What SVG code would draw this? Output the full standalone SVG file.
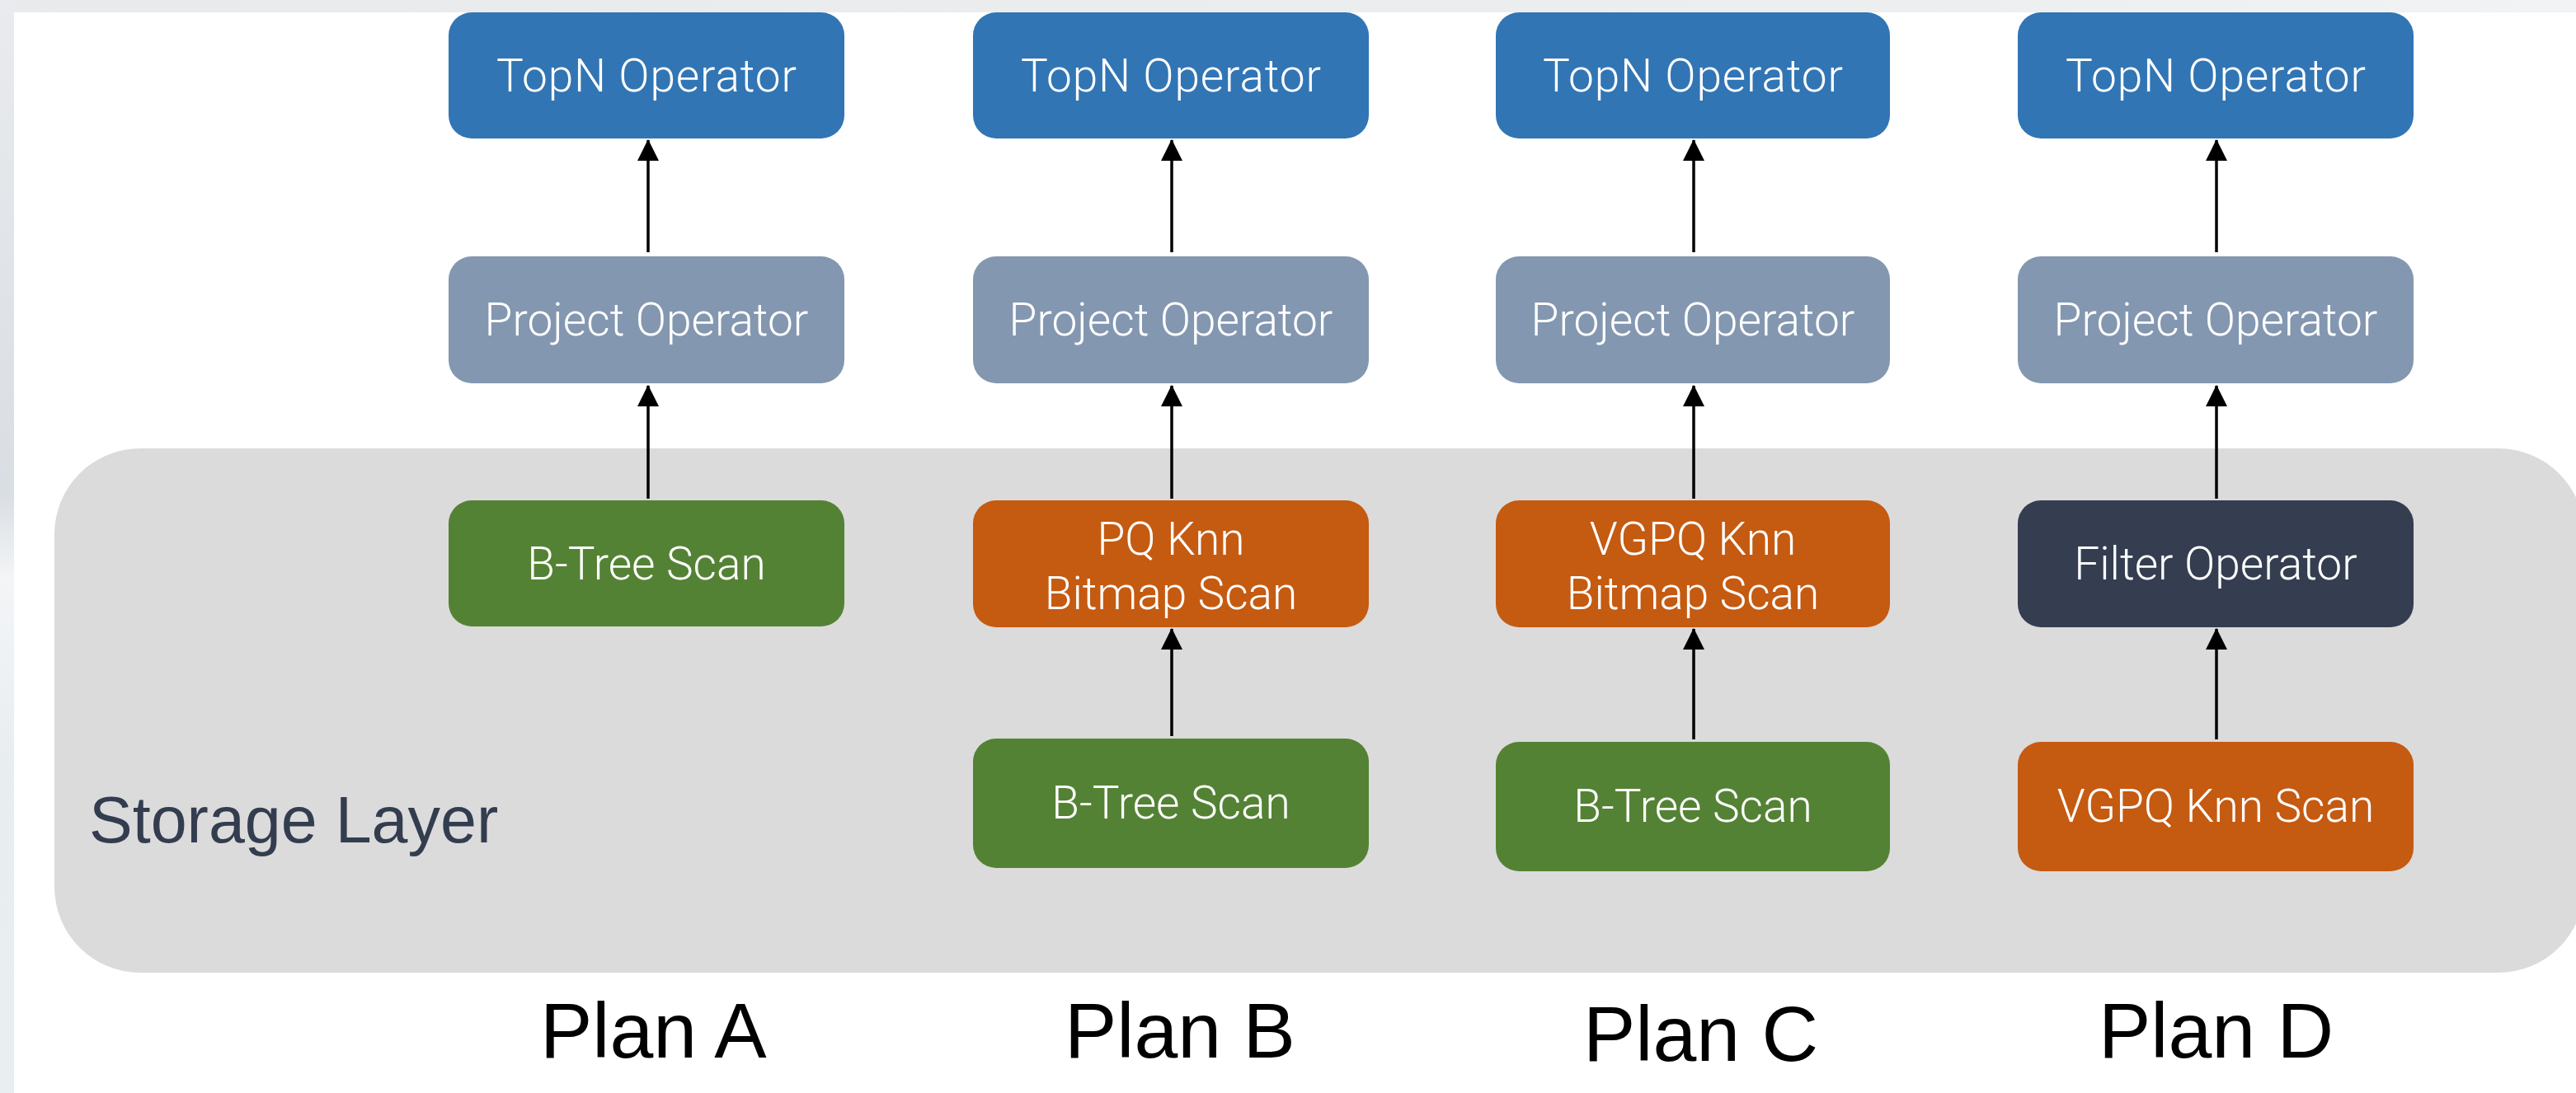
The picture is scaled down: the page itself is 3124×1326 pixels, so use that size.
<svg xmlns="http://www.w3.org/2000/svg" width="3124" height="1326" viewBox="0 0 3124 1326">
<defs>
<linearGradient id="leftStrip" x1="0" y1="0" x2="0" y2="1">
<stop offset="0" stop-color="#e9ebee"/>
<stop offset="0.45" stop-color="#d9dee3"/>
<stop offset="0.53" stop-color="#f3f5f7"/>
<stop offset="0.7" stop-color="#e8edf0"/>
<stop offset="1" stop-color="#e9eef1"/>
</linearGradient>
<linearGradient id="topStrip" x1="0" y1="0" x2="1" y2="0">
<stop offset="0" stop-color="#e8eaec"/>
<stop offset="0.75" stop-color="#eceef0"/>
<stop offset="1" stop-color="#f2f3f5"/>
</linearGradient>
<marker id="arrow" markerUnits="userSpaceOnUse" markerWidth="26" markerHeight="26" viewBox="0 0 24 24" refX="23" refY="12" orient="auto">
<path d="M0,0 L24,12 L0,24 z" fill="#000"/>
</marker>
<style>
.node rect { rx: 28px; ry: 28px; }
.lbl { font-family: Roboto, "Noto Sans", "Liberation Sans", sans-serif; font-weight: 300; font-size: 55px; fill: #ffffff; text-anchor: middle; }
.topn { fill: #3175b4; }
.proj { fill: #8497b0; }
.btree { fill: #548235; }
.knn { fill: #c55a11; }
.filter { fill: #343e50; }
.plan { font-family: "Liberation Sans", Arial, sans-serif; font-size: 95px; fill: #000000; }
.conn line { stroke: #000; stroke-width: 3.5; marker-end: url(#arrow); }
</style>
</defs>
<rect x="0" y="0" width="3124" height="1326" fill="#ffffff"/>
<rect x="0" y="0" width="3124" height="15" fill="url(#topStrip)"/>
<rect x="0" y="0" width="17" height="1326" fill="url(#leftStrip)"/>

<g id="storage-layer">
<rect x="66" y="544" width="3068" height="636" rx="104" ry="104" fill="#dbdbdb"/>
<text x="108" y="1022" font-family="Liberation Sans, Arial, sans-serif" font-size="79" fill="#333d4f">Storage Layer</text>
</g>

<!-- Plan A -->
<g id="a-topn" class="node"><rect class="topn" x="544" y="15" width="480" height="153"/><text class="lbl" x="784" y="111" textLength="364" lengthAdjust="spacing">TopN Operator</text></g>
<g id="a-project" class="node"><rect class="proj" x="544" y="311" width="480" height="154"/><text class="lbl" x="784" y="407">Project Operator</text></g>
<g id="a-btree" class="node"><rect class="btree" x="544" y="607" width="480" height="153"/><text class="lbl" x="784" y="703">B-Tree Scan</text></g>

<!-- Plan B -->
<g id="b-topn" class="node"><rect class="topn" x="1180" y="15" width="480" height="153"/><text class="lbl" x="1420" y="111" textLength="364" lengthAdjust="spacing">TopN Operator</text></g>
<g id="b-project" class="node"><rect class="proj" x="1180" y="311" width="480" height="154"/><text class="lbl" x="1420" y="407">Project Operator</text></g>
<g id="b-pqknn" class="node"><rect class="knn" x="1180" y="607" width="480" height="154"/><text class="lbl" x="1420" y="673">PQ Knn</text><text class="lbl" x="1420" y="739">Bitmap Scan</text></g>
<g id="b-btree" class="node"><rect class="btree" x="1180" y="896" width="480" height="157"/><text class="lbl" x="1420" y="993">B-Tree Scan</text></g>

<!-- Plan C -->
<g id="c-topn" class="node"><rect class="topn" x="1814" y="15" width="478" height="153"/><text class="lbl" x="2053" y="111" textLength="364" lengthAdjust="spacing">TopN Operator</text></g>
<g id="c-project" class="node"><rect class="proj" x="1814" y="311" width="478" height="154"/><text class="lbl" x="2053" y="407">Project Operator</text></g>
<g id="c-vgpqknn" class="node"><rect class="knn" x="1814" y="607" width="478" height="154"/><text class="lbl" x="2053" y="673">VGPQ Knn</text><text class="lbl" x="2053" y="739">Bitmap Scan</text></g>
<g id="c-btree" class="node"><rect class="btree" x="1814" y="900" width="478" height="157"/><text class="lbl" x="2053" y="997">B-Tree Scan</text></g>

<!-- Plan D -->
<g id="d-topn" class="node"><rect class="topn" x="2447" y="15" width="480" height="153"/><text class="lbl" x="2687" y="111" textLength="364" lengthAdjust="spacing">TopN Operator</text></g>
<g id="d-project" class="node"><rect class="proj" x="2447" y="311" width="480" height="154"/><text class="lbl" x="2687" y="407">Project Operator</text></g>
<g id="d-filter" class="node"><rect class="filter" x="2447" y="607" width="480" height="154"/><text class="lbl" x="2687" y="703">Filter Operator</text></g>
<g id="d-vgpqknnscan" class="node"><rect class="knn" x="2447" y="900" width="480" height="157"/><text class="lbl" x="2687" y="997">VGPQ Knn Scan</text></g>

<g id="connectors" class="conn">
<line x1="786" y1="306" x2="786" y2="170"/>
<line x1="786" y1="605" x2="786" y2="468"/>
<line x1="1421" y1="306" x2="1421" y2="170"/>
<line x1="1421" y1="605" x2="1421" y2="468"/>
<line x1="1421" y1="893" x2="1421" y2="763"/>
<line x1="2054" y1="306" x2="2054" y2="170"/>
<line x1="2054" y1="605" x2="2054" y2="468"/>
<line x1="2054" y1="897" x2="2054" y2="763"/>
<line x1="2688" y1="306" x2="2688" y2="170"/>
<line x1="2688" y1="605" x2="2688" y2="468"/>
<line x1="2688" y1="897" x2="2688" y2="763"/>
</g>

<g id="plan-labels">
<text class="plan" x="655" y="1283">Plan A</text>
<text class="plan" x="1291" y="1283">Plan B</text>
<text class="plan" x="1920" y="1287">Plan C</text>
<text class="plan" x="2545" y="1283">Plan D</text>
</g>
</svg>
